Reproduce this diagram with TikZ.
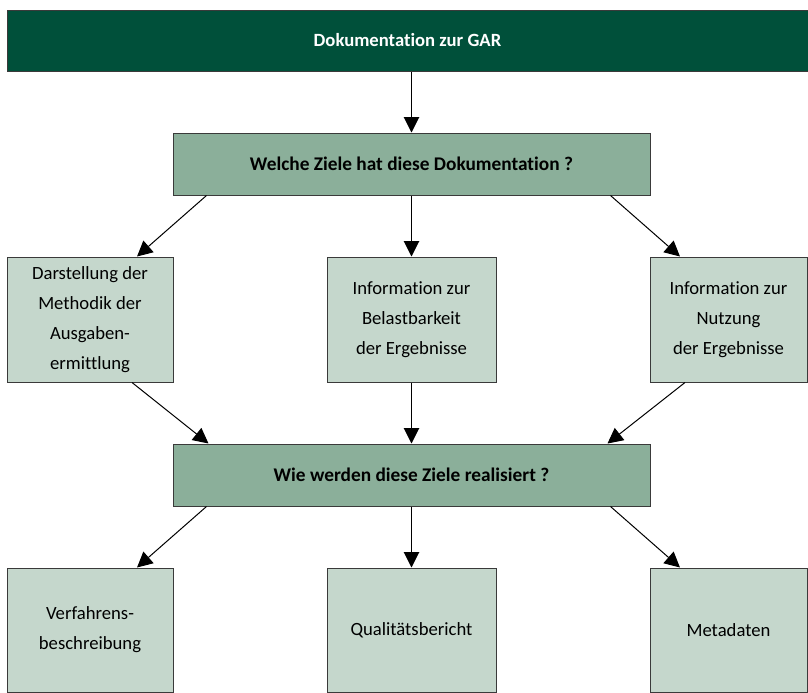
\documentclass[tikz,border=0pt]{standalone}
\usepackage{fontspec}
\setmainfont{Carlito}[Ligatures=NoCommon]
\usetikzlibrary{arrows.meta}
\usetikzlibrary{calc}

\definecolor{garDunkel}{HTML}{00503A}
\definecolor{garMittel}{HTML}{8BAF9A}
\definecolor{garHell}{HTML}{C5D7CC}
\definecolor{garRand}{HTML}{3A3A3A}

\begin{document}
\begin{tikzpicture}[x=0.75pt,y=-0.75pt,%
  kopf/.style={fill=garDunkel,draw=garRand,line width=0.75pt,text=white,%
    font=\bfseries\fontsize{14}{16}\selectfont,minimum width=600.75pt,minimum height=45.75pt},
  frage/.style={fill=garMittel,draw=garRand,line width=0.75pt,%
    font=\bfseries\fontsize{14.5}{16}\selectfont,minimum width=357.75pt,minimum height=46.5pt},
  feld/.style={fill=garHell,draw=garRand,line width=0.75pt,align=center,inner sep=0pt,%
    font=\fontsize{14}{22.5}\selectfont,minimum height=93.75pt},
  pfeil/.style={-{Triangle[length=11.5pt,width=11.5pt]},line width=0.75pt}]
  \useasboundingbox (0,0) rectangle (808,693);

  \node[kopf]  (gar)   at (407.5,40.5) {Dokumentation zur GAR};
  \node[frage] (ziele) at (411.5,164)  {Welche Ziele hat diese Dokumentation ?};

  \node[feld,minimum width=124.5pt]  (methodik) at (90,319.5)
    {Darstellung der\\Methodik der\\Ausgaben-\\ermittlung};
  \node[feld,minimum width=126.75pt] (belast)   at (411.5,319.5)
    {Information zur\\Belastbarkeit\\der Ergebnisse};
  \node[feld,minimum width=117.75pt] (nutzung)  at (728.5,319.5)
    {Information zur\\Nutzung\\der Ergebnisse};

  \node[frage] (real) at (411.5,475) {Wie werden diese Ziele realisiert ?};

  \node[feld,minimum width=124.5pt,minimum height=93pt]  (verf)  at (90,630)
    {Verfahrens-\\beschreibung};
  \node[feld,minimum width=126.75pt,minimum height=93pt] (quali) at (411.5,630)
    {Qualitätsbericht};
  \node[feld,minimum width=117.75pt,minimum height=93pt] (meta)  at (728.5,630)
    {Metadaten};

  % Ziele
  \draw[pfeil] (gar.south -| ziele.north) -- (ziele.north);
  \draw[pfeil] ($(ziele.south west)+(34,0)$) -- ($(methodik.north)+(47,0)$);
  \draw[pfeil] (ziele.south) -- (belast.north);
  \draw[pfeil] ($(ziele.south east)+(-40,0)$) -- ($(nutzung.north)+(-48.5,0)$);

  % Umsetzung
  \draw[pfeil] ($(methodik.south)+(42,0)$) -- ($(real.north west)+(36,0)$);
  \draw[pfeil] (belast.south) -- (real.north);
  \draw[pfeil] ($(nutzung.south)+(-43.5,0)$) -- ($(real.north east)+(-43,0)$);

  \draw[pfeil] ($(real.south west)+(34,0)$) -- ($(verf.north)+(47,0)$);
  \draw[pfeil] (real.south) -- (quali.north);
  \draw[pfeil] ($(real.south east)+(-40,0)$) -- ($(meta.north)+(-48.5,0)$);
\end{tikzpicture}
\end{document}
